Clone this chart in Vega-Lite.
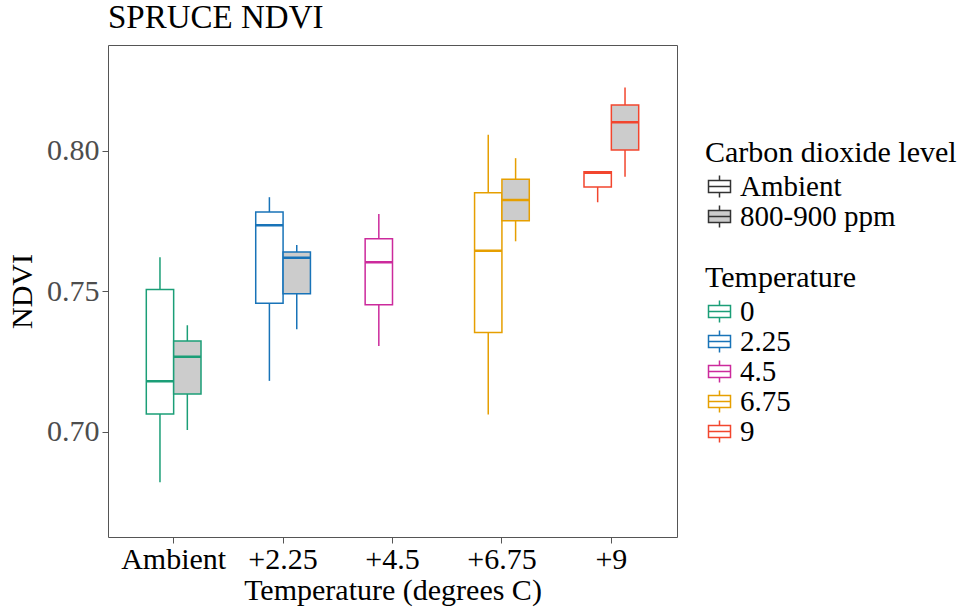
{
  "$schema": "https://vega.github.io/schema/vega-lite/v6.json",
  "autosize": {"type": "none"},
  "padding": {"left": 108, "top": 45, "right": 289, "bottom": 70},
  "width": 569,
  "height": 492,
  "background": "white",
  "title": {"text": "SPRUCE NDVI", "anchor": "start", "frame": "group", "font": "Liberation Serif", "fontSize": 33, "fontWeight": "normal", "color": "black", "offset": 10},
  "config": {
    "font": "Liberation Serif",
    "view": {"stroke": "#555555", "strokeWidth": 1},
    "axis": {"grid": false, "domain": false, "tickColor": "#555555", "tickSize": 6, "labelFont": "Liberation Serif", "titleFont": "Liberation Serif", "labelFontSize": 30, "titleFontSize": 30, "titleFontWeight": "normal", "titleColor": "black"},
    "legend": {"labelFont": "Liberation Serif", "titleFont": "Liberation Serif", "labelFontSize": 29, "titleFontSize": 30, "titleFontWeight": "normal", "titleColor": "black", "labelColor": "black", "titleLimit": 400, "labelLimit": 400}
  },
  "data": {"values": [
    {"tg": "Ambient", "co2": "Ambient", "temp": "0", "lower": 0.682, "q1": 0.7063, "median": 0.718, "q3": 0.7506, "upper": 0.7621},
    {"tg": "Ambient", "co2": "800-900 ppm", "temp": "0", "lower": 0.7006, "q1": 0.7134, "median": 0.7267, "q3": 0.7323, "upper": 0.7379},
    {"tg": "+2.25", "co2": "Ambient", "temp": "2.25", "lower": 0.7181, "q1": 0.7457, "median": 0.7735, "q3": 0.7782, "upper": 0.7835},
    {"tg": "+2.25", "co2": "800-900 ppm", "temp": "2.25", "lower": 0.7365, "q1": 0.7491, "median": 0.7619, "q3": 0.764, "upper": 0.7665},
    {"tg": "+4.5", "co2": "Ambient", "temp": "4.5", "lower": 0.7305, "q1": 0.7452, "median": 0.7603, "q3": 0.7687, "upper": 0.7775},
    {"tg": "+6.75", "co2": "Ambient", "temp": "6.75", "lower": 0.7061, "q1": 0.7353, "median": 0.7644, "q3": 0.7851, "upper": 0.8057},
    {"tg": "+6.75", "co2": "800-900 ppm", "temp": "6.75", "lower": 0.7678, "q1": 0.7751, "median": 0.7825, "q3": 0.7899, "upper": 0.7974},
    {"tg": "+9", "co2": "Ambient", "temp": "9", "lower": 0.7817, "q1": 0.7871, "median": 0.7922, "q3": 0.7926, "upper": 0.7926},
    {"tg": "+9", "co2": "800-900 ppm", "temp": "9", "lower": 0.7908, "q1": 0.8003, "median": 0.8102, "q3": 0.8163, "upper": 0.8226}
  ]},
  "encoding": {
    "x": {"field": "tg", "type": "nominal", "sort": ["Ambient", "+2.25", "+4.5", "+6.75", "+9"],
      "scale": {"domain": ["Ambient", "+2.25", "+4.5", "+6.75", "+9"], "paddingInner": 0.5, "paddingOuter": 0.35},
      "axis": {"title": "Temperature (degrees C)", "labelAngle": 0, "labelColor": "black", "labelPadding": 1, "titlePadding": 1}},
    "xOffset": {"field": "co2", "type": "nominal", "scale": {"domain": ["Ambient", "800-900 ppm"], "paddingInner": 0, "paddingOuter": 0}},
    "stroke": {"field": "temp", "type": "nominal",
      "scale": {"domain": ["0", "2.25", "4.5", "6.75", "9"], "range": ["#1B9E77", "#1873B8", "#CC2A9C", "#E69F00", "#F2462E"]},
      "legend": {"title": "Temperature", "orient": "none", "legendX": 597, "legendY": 218,
        "symbolType": "M0,-1V-0.55M-1,-0.55H1V0.55H-1ZM-1,0H1M0,0.55V1", "symbolSize": 484, "symbolFillColor": "#FFFFFF", "symbolStrokeWidth": 1.5, "rowPadding": -1, "labelOffset": 6, "titlePadding": 4}}
  },
  "layer": [
    {
      "mark": {"type": "rule", "strokeWidth": 1.5},
      "encoding": {
        "y": {"field": "lower", "type": "quantitative", "scale": {"domain": [0.6625, 0.8377], "nice": false, "zero": false},
          "axis": {"title": "NDVI", "values": [0.7, 0.75, 0.8], "format": ".2f", "labelColor": "#4D4D4D", "labelPadding": 3, "titlePadding": 9}},
        "y2": {"field": "upper"}
      }
    },
    {
      "mark": {"type": "bar", "strokeWidth": 1.5},
      "encoding": {
        "y": {"field": "q1", "type": "quantitative"},
        "y2": {"field": "q3"},
        "fill": {"field": "co2", "type": "nominal", "scale": {"domain": ["Ambient", "800-900 ppm"], "range": ["#FFFFFF", "#CCCCCC"]},
          "legend": {"title": "Carbon dioxide level", "orient": "none", "legendX": 597, "legendY": 93,
            "symbolType": "M0,-1V-0.55M-1,-0.55H1V0.55H-1ZM-1,0H1M0,0.55V1", "symbolSize": 484, "symbolStrokeColor": "#333333", "symbolStrokeWidth": 1.5, "rowPadding": -1, "labelOffset": 6, "titlePadding": 4}}
      }
    },
    {
      "mark": {"type": "bar", "strokeWidth": 2.5, "fill": null, "fillOpacity": 0},
      "encoding": {
        "y": {"field": "median", "type": "quantitative"},
        "y2": {"field": "median"}
      }
    }
  ]
}
